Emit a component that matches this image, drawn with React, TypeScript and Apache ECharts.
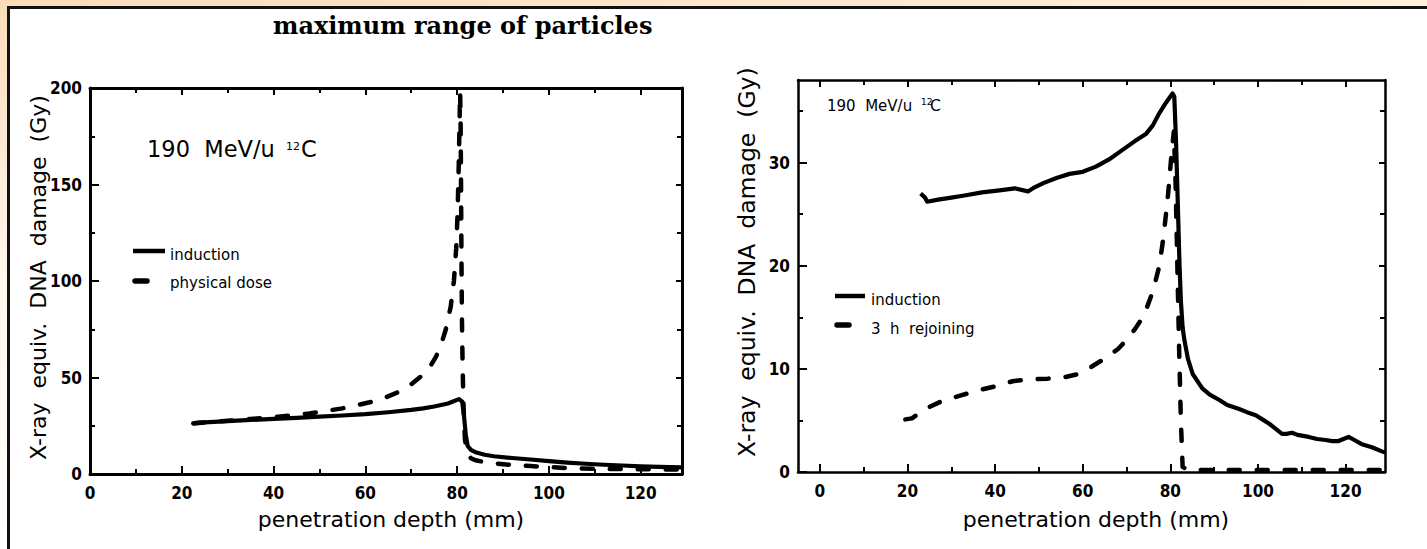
import React, { useEffect, useRef } from "react";
import * as echarts from "echarts";

// ---- texts ----
const chartTitle = "maximum range of particles";
const depthAxisTitle = "penetration depth (mm)";
const damageAxisTitle = "X-ray  equiv.  DNA  damage  (Gy)";
const beamEnergy = "190  MeV/u";
const beamMass = "12";
const beamIon = "C";
const leftLegendNames = ["induction", "physical dose"];
const rightLegendNames = ["induction", "3  h  rejoining"];

// ---- tick values ----
const depthMajor = [0, 20, 40, 60, 80, 100, 120];
const depthMinor = [10, 30, 50, 70, 90, 110];
const leftDamageMajor = [0, 50, 100, 150, 200];
const leftDamageMinor = [25, 75, 125, 175];
const rightDamageMajor = [0, 10, 20, 30];
const rightDamageMinor = [5, 15, 25, 35];

// ---- data: [depth mm, dose Gy] ----
const leftInduction: [number, number][] = [
  [22.5, 26.2], [23.5, 26.6], [26, 26.9], [30, 27.4], [35, 28.0], [40, 28.6], [45, 29.1],
  [50, 29.7], [55, 30.3], [60, 31.0], [65, 32.0], [70, 33.2], [72.6, 34.0], [75, 35.0],
  [78, 36.5], [80.4, 38.8], [81.1, 37.5], [81.5, 30], [81.9, 20], [82.3, 14.5], [83, 12.5],
  [84, 11.3], [86, 10.0], [88, 9.2], [92, 8.3], [96, 7.5], [100, 6.7], [104, 5.9],
  [108, 5.3], [112, 4.8], [116, 4.4], [120, 4.0], [124, 3.7], [129, 3.4],
];
const leftPhysicalDose: [number, number][] = [
  [22.5, 26.2], [26, 26.9], [30, 27.6], [35, 28.5], [41, 29.7], [47.8, 31.4], [55, 34.0],
  [61.6, 37.5], [64.5, 39.8], [67.4, 42.6], [70, 46.5], [72.5, 51.3], [74.2, 56],
  [75.4, 60.8], [76.5, 67], [77.5, 74.6], [78.6, 86.7], [79.3, 100], [79.8, 117],
  [80.1, 135], [80.35, 160], [80.55, 185], [80.65, 198], [80.75, 185], [80.85, 150],
  [80.95, 110], [81.05, 80], [81.2, 55], [81.4, 35], [81.7, 18], [82.2, 10.5],
  [83, 8.2], [84, 7.1], [86, 6.2], [88, 5.5], [92, 4.7], [96, 4.1], [100, 3.6],
  [105, 2.9], [110, 2.7], [120, 2.5], [129, 2.3],
];
const rightInduction: [number, number][] = [
  [23, 27.0], [24, 26.6], [24.5, 26.2], [27, 26.4], [30, 26.6], [33, 26.8], [37, 27.1],
  [41, 27.3], [44.5, 27.5], [47.5, 27.2], [49, 27.6], [51, 28.0], [54, 28.5], [57, 28.9],
  [60, 29.1], [63, 29.6], [66, 30.3], [69, 31.2], [72, 32.1], [74.5, 32.8], [76, 33.6],
  [77.5, 34.8], [79, 35.8], [80.5, 36.7], [80.9, 36.4], [81.3, 32], [81.7, 26],
  [82.1, 20], [82.4, 16.6], [82.8, 14], [83.2, 12.8], [84, 11], [85.1, 9.5], [87.3, 8.1],
  [89, 7.5], [91.1, 7.0], [93, 6.5], [95.7, 6.1], [97.5, 5.8], [99.5, 5.5], [101, 5.1],
  [102.5, 4.7], [104, 4.2], [105.5, 3.7], [106.5, 3.7], [107.8, 3.8], [109, 3.6],
  [111.6, 3.4], [113.5, 3.2], [115.4, 3.1], [117, 3.0], [118.4, 3.0], [119.5, 3.2],
  [120.7, 3.4], [122, 3.1], [123.7, 2.7], [126, 2.4], [128.3, 2.0], [129, 1.9],
];
const rightRejoining: [number, number][] = [
  [19.5, 5.1], [21, 5.2], [23, 5.8], [25, 6.3], [28, 6.9], [32, 7.4], [36, 7.9],
  [40, 8.3], [44, 8.8], [48, 9.0], [52, 9.05], [56, 9.2], [59, 9.5], [62, 10.2],
  [65, 11.0], [68, 11.9], [70, 12.8], [72, 13.9], [74, 15.2], [76, 17.5], [77.5, 20],
  [78.5, 23], [79.5, 27], [80.3, 31], [80.8, 33], [81.2, 28], [81.6, 20], [82, 12],
  [82.4, 5], [82.8, 0.5], [84, 0.2], [129, 0.2],
];

const INK = "#000";
const TICK_FONT = '"DejaVu Sans Condensed", "DejaVu Sans", sans-serif';
const TEXT_FONT = '"DejaVu Sans", sans-serif';
const TITLE_FONT = '"DejaVu Serif", "Liberation Serif", serif';

type Pos = "bottom" | "top" | "left" | "right";

function valueAxis(
  gridIndex: number,
  position: Pos,
  min: number,
  max: number,
  values: number[],
  opts: { labels: boolean; line: boolean; tickLen: number; lineWidth: number; margin?: number }
) {
  return {
    type: "value",
    gridIndex,
    position,
    min,
    max,
    axisLine: { show: opts.line, onZero: false, lineStyle: { color: INK, width: opts.lineWidth } },
    axisTick: {
      show: true,
      inside: true,
      length: opts.tickLen,
      customValues: values,
      lineStyle: { color: INK, width: 2 },
    },
    axisLabel: {
      show: opts.labels,
      customValues: values,
      margin: opts.margin ?? 8,
      color: INK,
      fontFamily: TICK_FONT,
      fontWeight: "bold",
      fontSize: 17,
    },
    splitLine: { show: false },
    minorTick: { show: false },
  };
}

function axesForGrid(
  gridIndex: number,
  xRange: [number, number],
  yRange: [number, number],
  yMajor: number[],
  yMinor: number[],
  lineWidth: number
) {
  const xs = [
    valueAxis(gridIndex, "bottom", xRange[0], xRange[1], depthMajor, { labels: true, line: true, tickLen: 8, lineWidth, margin: 10 }),
    valueAxis(gridIndex, "bottom", xRange[0], xRange[1], depthMinor, { labels: false, line: false, tickLen: 5, lineWidth }),
    valueAxis(gridIndex, "top", xRange[0], xRange[1], depthMajor, { labels: false, line: true, tickLen: 7, lineWidth }),
    valueAxis(gridIndex, "top", xRange[0], xRange[1], depthMinor, { labels: false, line: false, tickLen: 5, lineWidth }),
  ];
  const ys = [
    valueAxis(gridIndex, "left", yRange[0], yRange[1], yMajor, { labels: true, line: true, tickLen: 9, lineWidth, margin: 8 }),
    valueAxis(gridIndex, "left", yRange[0], yRange[1], yMinor, { labels: false, line: false, tickLen: 5, lineWidth }),
    valueAxis(gridIndex, "right", yRange[0], yRange[1], yMajor, { labels: false, line: true, tickLen: 6, lineWidth }),
    valueAxis(gridIndex, "right", yRange[0], yRange[1], yMinor, { labels: false, line: false, tickLen: 5, lineWidth }),
  ];
  return { xs, ys };
}

function lineSeries(name: string, xAxisIndex: number, yAxisIndex: number, data: [number, number][], dashed: boolean) {
  return {
    name,
    type: "line",
    xAxisIndex,
    yAxisIndex,
    data,
    symbol: "none",
    showSymbol: false,
    silent: true,
    z: dashed ? 2 : 3,
    lineStyle: {
      color: INK,
      width: dashed ? 4.5 : 4.2,
      type: dashed ? [11, 17] : "solid",
      cap: dashed ? "round" : "butt",
      join: "round",
    },
  };
}

function text(x: number, y: number, s: string, size: number, extra: Record<string, unknown> = {}) {
  return {
    type: "text",
    x,
    y,
    silent: true,
    style: {
      text: s,
      fill: INK,
      fontSize: size,
      fontFamily: TEXT_FONT,
      align: "left",
      verticalAlign: "middle",
      ...extra,
    },
  };
}

function segment(x1: number, x2: number, y: number, width: number, cap: string) {
  return {
    type: "line",
    silent: true,
    shape: { x1, y1: y, x2, y2: y },
    style: { stroke: INK, lineWidth: width, lineCap: cap },
  };
}

export default function App() {
  const ref = useRef<HTMLDivElement>(null);

  useEffect(() => {
    if (!ref.current) return;
    const chart = echarts.init(ref.current, undefined, { renderer: "svg" });

    const left = axesForGrid(0, [0, 129], [0, 200], leftDamageMajor, leftDamageMinor, 3);
    const right = axesForGrid(1, [-5, 129], [0, 38], rightDamageMajor, rightDamageMinor, 2.5);

    const option = {
      animation: false,
      backgroundColor: "#fff",
      grid: [
        { left: 90, top: 88, width: 592, height: 386 },
        { left: 798, top: 80, width: 587, height: 392 },
      ],
      xAxis: [...left.xs, ...right.xs],
      yAxis: [...left.ys, ...right.ys],
      series: [
        lineSeries(leftLegendNames[1], 0, 0, leftPhysicalDose, true),
        lineSeries(leftLegendNames[0], 0, 0, leftInduction, false),
        lineSeries(rightLegendNames[1], 4, 4, rightRejoining, true),
        lineSeries(rightLegendNames[0], 4, 4, rightInduction, false),
      ],
      graphic: [
        // page frame
        {
          type: "rect",
          silent: true,
          z: -10,
          shape: { x: 0, y: 0, width: 1427, height: 7 },
          style: {
            fill: new echarts.graphic.LinearGradient(0, 0, 1, 0, [
              { offset: 0, color: "#fbdcb8" },
              { offset: 1, color: "#fff1dc" },
            ]),
          },
        },
        {
          type: "rect",
          silent: true,
          z: -10,
          shape: { x: 0, y: 0, width: 8, height: 549 },
          style: {
            fill: new echarts.graphic.LinearGradient(0, 0, 0, 1, [
              { offset: 0, color: "#fbdcb8" },
              { offset: 0.5, color: "#fff6ec" },
              { offset: 1, color: "#ffffff" },
            ]),
          },
        },
        { type: "rect", silent: true, shape: { x: 8, y: 6, width: 1419, height: 3 }, style: { fill: "#111" } },
        { type: "rect", silent: true, shape: { x: 7, y: 6, width: 3, height: 543 }, style: { fill: "#111" } },

        // heading
        text(273, 25, chartTitle, 24, { fontFamily: TITLE_FONT, fontWeight: "bold" }),

        // left panel annotations
        text(147, 149, beamEnergy, 22.5),
        text(286, 146, beamMass, 11),
        text(301, 149, beamIon, 22.5),
        segment(133, 165, 251, 4.5, "butt"),
        text(170, 255, leftLegendNames[0], 15),
        segment(135, 147, 281, 5.5, "round"),
        text(170, 283, leftLegendNames[1], 15),
        text(391, 519, depthAxisTitle, 22, { align: "center" }),
        { ...text(38.5, 460, damageAxisTitle, 22), rotation: Math.PI / 2 },

        // right panel annotations
        text(827, 106, beamEnergy, 15),
        text(921, 102, beamMass, 9),
        text(930, 106, beamIon, 15.5),
        segment(835, 865, 296, 4.5, "butt"),
        text(871, 300, rightLegendNames[0], 15),
        segment(837, 849, 325, 5.5, "round"),
        text(871, 329, rightLegendNames[1], 15),
        text(1096, 519, depthAxisTitle, 22, { align: "center" }),
        { ...text(747, 457, damageAxisTitle, 23.5), rotation: Math.PI / 2 },
      ],
    };

    chart.setOption(option as any);
    return () => chart.dispose();
  }, []);

  return (
    <div
      ref={ref}
      style={{ position: "absolute", left: 0, top: 0, width: 1427, height: 549, background: "#fff" }}
    />
  );
}
